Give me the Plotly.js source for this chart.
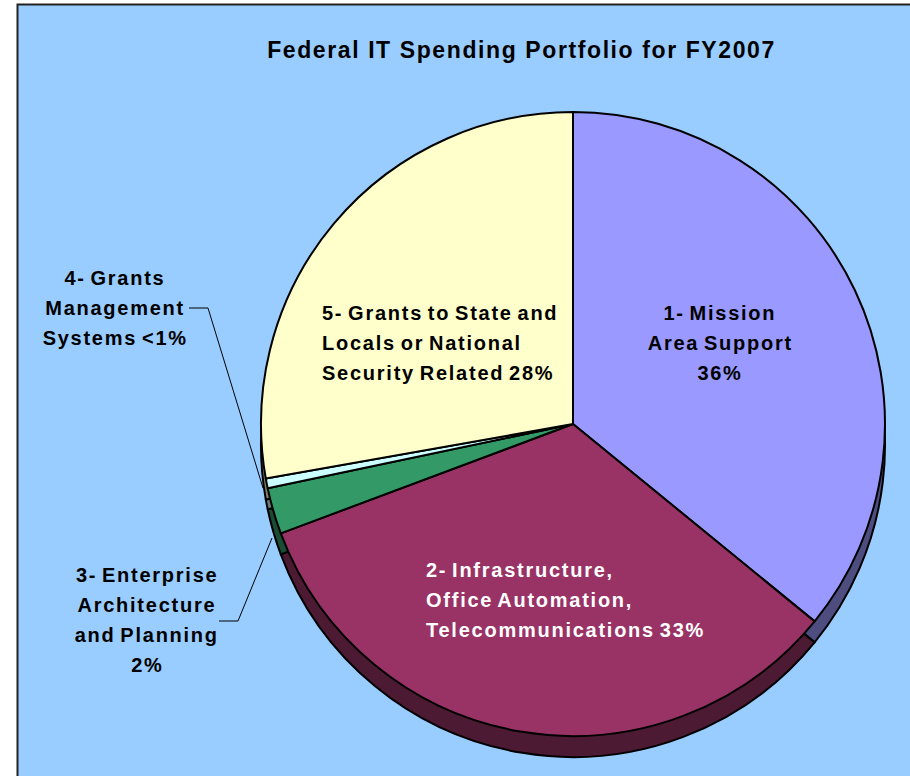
<!DOCTYPE html>
<html>
<head>
<meta charset="utf-8">
<script src="https://cdn.plot.ly/plotly-3.0.1.min.js"></script>
<style>
  html, body { margin: 0; padding: 0; background: #ffffff; }
  #chart { width: 910px; height: 776px; }
  #chart .annotation-text { letter-spacing: 1.75px; word-spacing: -2.5px; }
  #chart .gtitle { letter-spacing: 1.6px; }
</style>
</head>
<body>
<div id="chart"></div>
<script>
// ---- data ----
var categories = [
  "1- Mission Area Support",
  "2- Infrastructure, Office Automation, Telecommunications",
  "3- Enterprise Architecture and Planning",
  "4- Grants Management Systems",
  "5- Grants to State and Locals or National Security Related"
];
var shares = [35.9, 33.4, 2.4, 0.5, 27.8];
var labelLines = [
  ["1- Mission", "Area Support", "36%"],
  ["2- Infrastructure,", "Office Automation,", "Telecommunications 33%"],
  ["3- Enterprise", "Architecture", "and Planning", "2%"],
  ["4- Grants", "Management", "Systems <1%"],
  ["5- Grants to State and", "Locals or National", "Security Related 28%"]
];
var chartTitle = "Federal IT Spending Portfolio for FY2007";

// ---- style ----
var W = 910, H = 776;
var faceColors = ["#9999FF", "#993366", "#339966", "#CCFFFF", "#FFFFCC"];
var sideColors = ["#4D4D80", "#4D1A33", "#1A4D33", "#668080", "#808066"];
var labelColors = ["#000000", "#FFFFFF", "#000000", "#000000", "#000000"];
var labelPlace = [
  {x: 720, y: 313, align: "center"},
  {x: 425, y: 570, align: "left"},
  {x: 147, y: 575, align: "center"},
  {x: 115, y: 278, align: "center"},
  {x: 321, y: 313, align: "left"}
];
var lineStep = 30;
var cx = 573, cy = 424, r = 312, depth = 21;

function px(x) { return x / W; }
function py(y) { return 1 - y / H; }

function pieDomain(centerY) {
  return {
    x: [px(cx - r), px(cx + r)],
    y: [py(centerY + r), py(centerY - r)]
  };
}

var base = {
  type: "pie",
  labels: categories,
  values: shares,
  sort: false,
  direction: "clockwise",
  rotation: 0,
  textinfo: "none",
  hoverinfo: "skip",
  showlegend: false
};

var sideTrace = Object.assign({}, base, {
  domain: pieDomain(cy + depth),
  marker: {colors: sideColors, line: {color: "#000000", width: 2}}
});
var faceTrace = Object.assign({}, base, {
  domain: pieDomain(cy),
  marker: {colors: faceColors, line: {color: "#000000", width: 2}}
});

var annotations = [];
labelLines.forEach(function (lines, i) {
  var p = labelPlace[i];
  lines.forEach(function (t, j) {
    annotations.push({
      text: t,
      xref: "paper", yref: "paper",
      x: px(p.x), y: py(p.y + j * lineStep),
      xanchor: p.align === "left" ? "left" : "center",
      yanchor: "middle",
      align: p.align,
      showarrow: false,
      borderpad: 0,
      font: {family: "Liberation Sans, Arial, sans-serif", size: 20, weight: 700, color: labelColors[i]}
    });
  });
});

function pathPx(pts) {
  return pts.map(function (p, k) {
    return (k === 0 ? "M " : "L ") + px(p[0]) + " " + py(p[1]);
  }).join(" ");
}

var shapes = [
  {
    type: "rect", xref: "paper", yref: "paper", layer: "below",
    x0: px(17.5), x1: 1.02, y0: py(4.5), y1: -0.02,
    fillcolor: "#99CCFF", line: {color: "#222222", width: 2}
  },
  {
    type: "path", xref: "paper", yref: "paper", layer: "above",
    path: pathPx([[189, 308], [208, 308], [263, 488]]),
    line: {color: "#000000", width: 1}
  },
  {
    type: "path", xref: "paper", yref: "paper", layer: "above",
    path: pathPx([[219, 621], [238, 621], [272, 538]]),
    line: {color: "#000000", width: 1}
  }
];

var layout = {
  width: W, height: H,
  margin: {l: 0, r: 0, t: 0, b: 0, pad: 0},
  paper_bgcolor: "#FFFFFF",
  plot_bgcolor: "rgba(0,0,0,0)",
  title: {
    text: chartTitle,
    xref: "paper", yref: "paper",
    x: px(521.5), xanchor: "center",
    y: py(50), yanchor: "middle",
    font: {family: "Liberation Sans, Arial, sans-serif", size: 23, weight: 700, color: "#000000"}
  },
  annotations: annotations,
  shapes: shapes
};

Plotly.newPlot("chart", [sideTrace, faceTrace], layout, {staticPlot: true, displayModeBar: false});
</script>
</body>
</html>
